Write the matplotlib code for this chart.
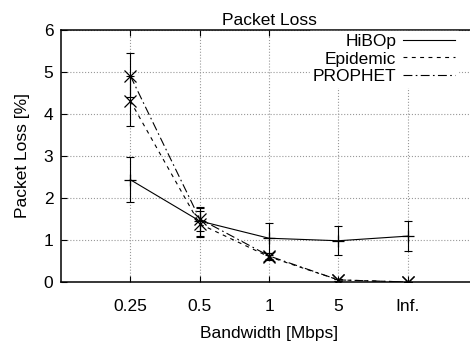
import numpy as np
import matplotlib.pyplot as plt

# Data
bandwidth = ['0.25', '0.5', '1', '5', 'Inf.']
hibop = [2.43, 1.45, 1.04, 0.98, 1.09]
hibop_lo = [1.90, 1.10, 0.64, 0.64, 0.74]
hibop_hi = [2.98, 1.75, 1.40, 1.32, 1.44]
epidemic = [4.30, 1.38, 0.60, 0.05, 0.00]
epidemic_lo = [3.70, 1.08, 0.52, 0.02, 0.00]
epidemic_hi = [4.90, 1.68, 0.68, 0.08, 0.00]
prophet = [4.90, 1.50, 0.62, 0.05, 0.00]
prophet_lo = [4.40, 1.22, 0.54, 0.02, 0.00]
prophet_hi = [5.43, 1.78, 0.70, 0.08, 0.00]

plt.rcParams['font.family'] = ['Liberation Sans', 'DejaVu Sans']
fs = 12.5

fig = plt.figure(figsize=(4.7, 3.41), dpi=100)
# right spine sits just past the image edge, like the cropped original
ax = fig.add_axes([61 / 470, 59 / 341, 416 / 470, 252.5 / 341])

x = np.arange(1, len(bandwidth) + 1)

def draw(vals, lo, hi, ls, label, marker):
    vals = np.array(vals)
    err = [vals - np.array(lo), np.array(hi) - vals]
    ax.errorbar(x, vals, yerr=err, fmt='none', ecolor='black', elinewidth=0.8,
                capsize=3, capthick=0.8)
    ax.plot(x, vals, color='black', ls=ls, lw=0.8, label=label)
    ax.plot(x, vals, ls='none', marker=marker, ms=8.5, mew=0.9, color='black')

draw(hibop, hibop_lo, hibop_hi, '-', 'HiBOp', '+')
draw(epidemic, epidemic_lo, epidemic_hi, (0, (3.5, 4)), 'Epidemic', 'x')
draw(prophet, prophet_lo, prophet_hi, (0, (8, 3, 1.5, 3)), 'PROPHET', 'x')

ax.set_xlim(0, 6)
ax.set_ylim(0, 6)
ax.set_xticks(x)
ax.set_xticklabels(bandwidth)
ax.set_yticks(range(0, 7))
ax.tick_params(direction='in', top=True, right=True, labelsize=fs, length=4)
ax.tick_params(axis='x', pad=12)
ax.tick_params(axis='y', pad=5.5)
ax.grid(True, color='#999999', ls=':', lw=0.8)
for s in ax.spines.values():
    s.set_linewidth(1.1)

ax.set_title('Packet Loss', fontsize=fs, pad=3)
ax.set_xlabel('Bandwidth [Mbps]', fontsize=fs, labelpad=9)
ax.set_ylabel('Packet Loss [%]', fontsize=fs, labelpad=10)

leg = ax.legend(loc='upper right', bbox_to_anchor=(458 / 470, 310 / 341),
                bbox_transform=fig.transFigure, frameon=True, markerfirst=False,
                fontsize=fs, handlelength=3.0, handletextpad=0.4, borderpad=0.15,
                labelspacing=0.15, borderaxespad=0)
leg.get_frame().set_facecolor('white')
leg.get_frame().set_edgecolor('white')
leg.get_frame().set_alpha(1)
leg.get_frame().set_boxstyle('square', pad=0)

fig.savefig('out.png', dpi=100)
